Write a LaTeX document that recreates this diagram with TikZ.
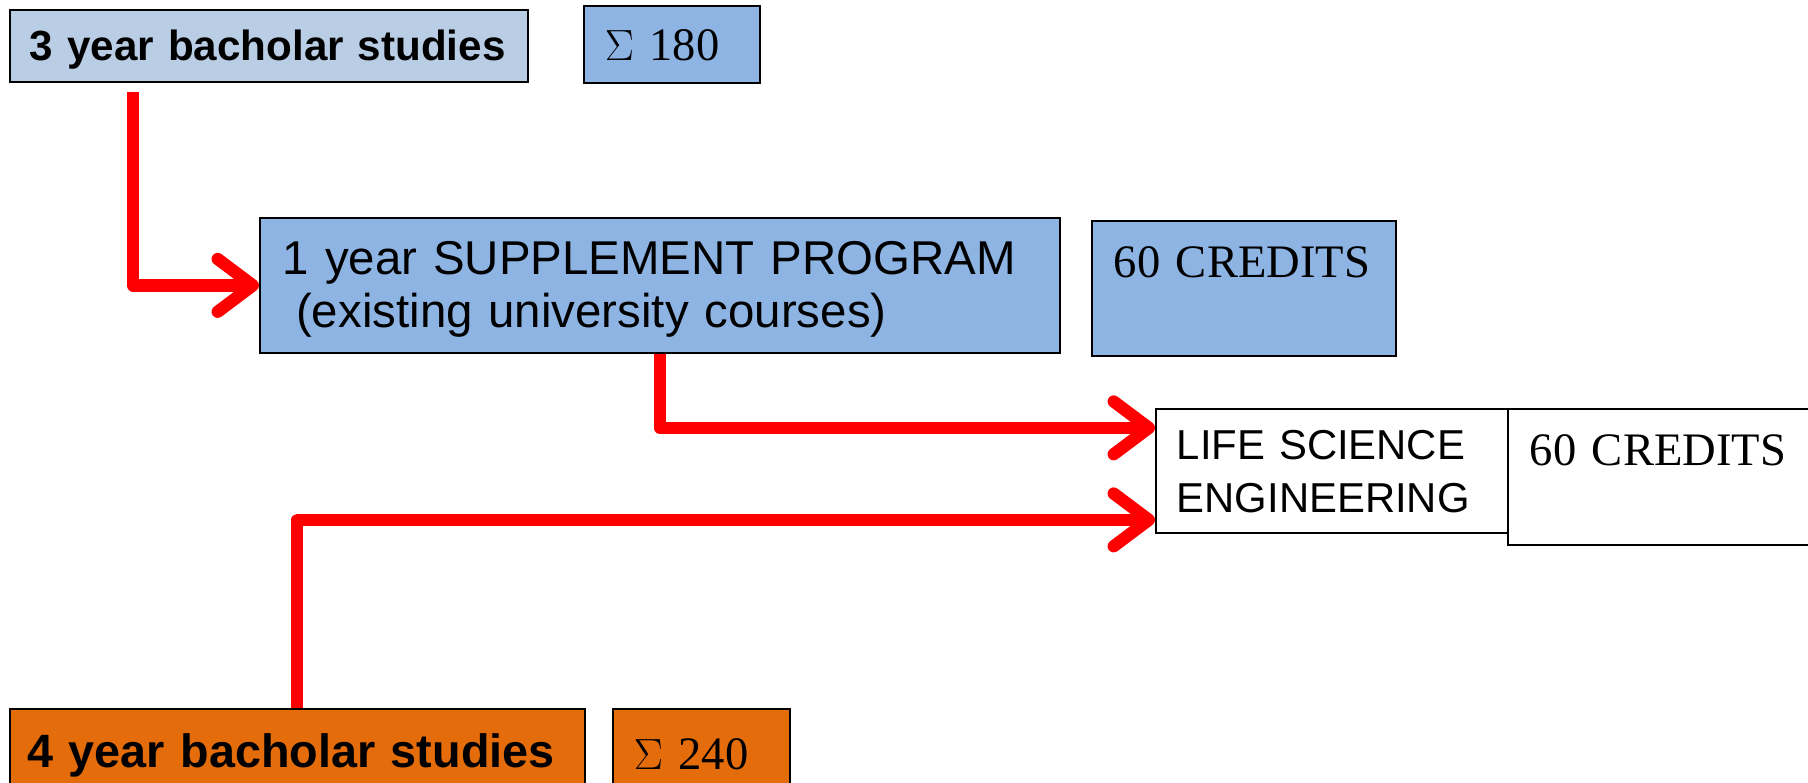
\documentclass[tikz,border=0pt]{standalone}
\usepackage{fontspec}
\setmainfont{Liberation Serif}
\setsansfont{Liberation Sans}
\usetikzlibrary{arrows.meta, calc}

\definecolor{paleblue}{HTML}{B9CDE5}
\definecolor{midblue}{HTML}{8EB4E3}
\definecolor{burnt}{HTML}{E46C0A}

\tikzstyle{object} = [
draw=black,
line width=1pt,
anchor=north west,
inner ysep=0pt,
align=left]
\tikzstyle{sumbox} = [
object,
inner xsep=0.42cm,
font=\fontsize{26.5}{30}\selectfont]
\tikzstyle{redarrow} = [
draw=red,
line width=7pt,
line join=round,
-{Straight Barb[length=20pt, width=30pt, round]}]

\begin{document}
\begin{tikzpicture}[x=0.02cm, y=-0.02cm]
\useasboundingbox (0,0) rectangle (1808,782);

\node[object, fill=paleblue, inner xsep=0.4cm, text width=9.56cm, text height=1.02cm, text depth=0.42cm,
    font=\fontsize{24}{28}\selectfont\sffamily\bfseries] (threeYear) at (9,9) {3 year bacholar studies};
\node[sumbox, fill=midblue, text width=2.68cm, text height=1.1cm, text depth=0.44cm] (sumThree) at (583,5) {$\Sigma$ 180};

\node[object, fill=midblue, inner xsep=0.46cm, text width=15.08cm, text height=1.14cm, text depth=1.56cm,
    font=\fontsize{27}{30}\selectfont\sffamily] (supplement) at (259,217)
    {1 year SUPPLEMENT PROGRAM\\\hspace*{0.28em}(existing university courses)};
\node[sumbox, fill=midblue, inner xsep=0.44cm, text width=5.2cm, text height=1.14cm, text depth=1.56cm] (supplementCredits) at (1091,220) {60 CREDITS};

\node[object, fill=white, inner xsep=0.42cm, text width=6.2cm, text height=1.02cm, text depth=1.46cm,
    font=\fontsize{23.8}{30}\selectfont\sffamily] (lifeScience) at (1155,408) {LIFE SCIENCE\\ENGINEERING};
\node[sumbox, fill=white, inner xsep=0.44cm, text width=5.22cm, text height=1.14cm, text depth=1.58cm] (lifeCredits) at (1507,408) {60 CREDITS};

\node[object, fill=burnt, inner xsep=0.35cm, text width=10.8cm, text height=1.18cm, text depth=0.46cm,
    font=\fontsize{26.6}{30}\selectfont\sffamily\bfseries] (fourYear) at (9,708) {4 year bacholar studies};
\node[sumbox, fill=burnt, text width=2.7cm, text height=1.22cm, text depth=0.42cm] (sumFour) at (612,708) {$\Sigma$ 240};

\draw[redarrow] ($(threeYear.south west)+(124,9)$) |- (supplement);
\draw[redarrow] (supplement) |- ($(lifeScience.west)+(0,-43)$);
\draw[redarrow] (fourYear) |- ($(lifeScience.west)+(0,49)$);

\end{tikzpicture}
\end{document}
